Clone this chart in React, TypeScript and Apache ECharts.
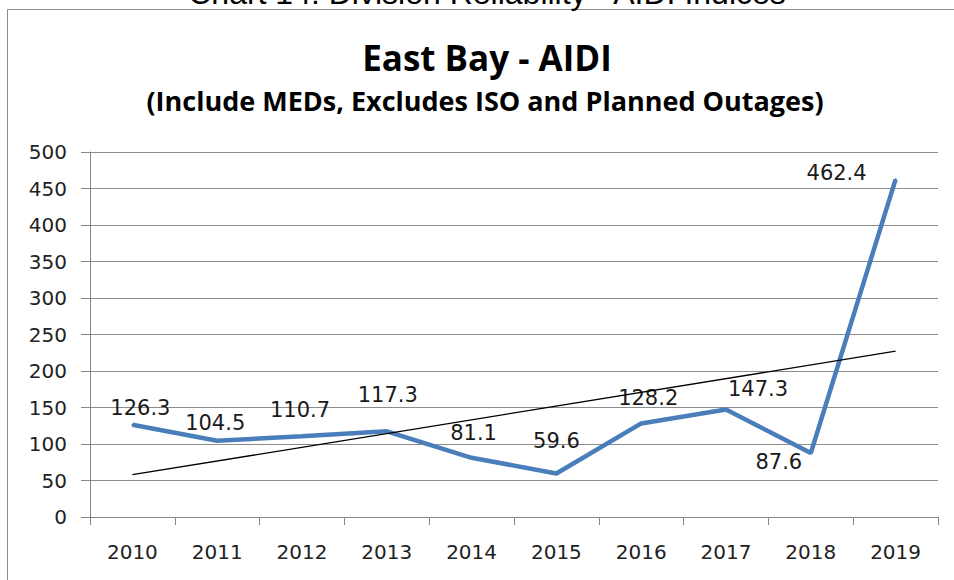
import React, { useEffect, useRef } from "react";
import * as echarts from "echarts";

const categories = ["2010", "2011", "2012", "2013", "2014", "2015", "2016", "2017", "2018", "2019"];
const aidiValues = [126.3, 104.5, 110.7, 117.3, 81.1, 59.6, 128.2, 147.3, 87.6, 462.4];
const trendStart = 57.9;
const trendEnd = 227.1;
const yTicks = { min: 0, max: 500, interval: 50 };

const titleText = "East Bay - AIDI";
const subtitleText = "(Include MEDs, Excludes ISO and Planned Outages)";
const pageHeading = "Chart 14: Division Reliability - AIDI Indices";

// label offsets (style, relative to each point)
const labelOffsets: [number, number][] = [
  [8, -17], [-2, -18], [-2, -26], [1, -36], [2, -25],
  [0, -32], [7, -25], [32, -20], [-32, 9], [-59, -6],
];

export default function App() {
  const ref = useRef<HTMLDivElement>(null);
  useEffect(() => {
    if (!ref.current) return;
    const chart = echarts.init(ref.current, null, { renderer: "svg" });
    const labelFont = "DejaVu Sans";
    chart.setOption({
      animation: false,
      backgroundColor: "#ffffff",
      graphic: [
        {
          type: "rect",
          shape: { x: 7.5, y: 9.5, width: 1000, height: 1000 },
          style: { fill: "none", stroke: "#8c8c8c", lineWidth: 1 },
          silent: true,
        },
        {
          type: "text",
          x: 487,
          y: 9,
          style: {
            text: pageHeading,
            font: "32px 'Liberation Sans'",
            fill: "#000",
            align: "center",
            verticalAlign: "bottom",
          },
          silent: true,
        },
        {
          type: "text",
          x: 487,
          y: 57,
          style: {
            text: titleText,
            font: "bold 35px 'Open Sans'",
            fill: "#000",
            align: "center",
            verticalAlign: "middle",
          },
        },
        {
          type: "text",
          x: 485,
          y: 100,
          style: {
            text: subtitleText,
            font: "bold 27px 'Open Sans'",
            fill: "#000",
            align: "center",
            verticalAlign: "middle",
          },
        },
      ],
      grid: { left: 90, right: 16, top: 152, bottom: 63, containLabel: false },
      xAxis: {
        type: "category",
        data: categories,
        boundaryGap: true,
        axisLine: { show: true, lineStyle: { color: "#868686", width: 1 } },
        axisTick: { show: true, length: 8, lineStyle: { color: "#868686" } },
        axisLabel: { color: "#222", fontFamily: labelFont, fontSize: 20, margin: 25 },
        splitLine: { show: false },
      },
      yAxis: {
        type: "value",
        min: yTicks.min,
        max: yTicks.max,
        interval: yTicks.interval,
        axisLine: { show: true, lineStyle: { color: "#868686", width: 1 } },
        axisTick: { show: true, length: 9, lineStyle: { color: "#868686" } },
        axisLabel: { color: "#222", fontFamily: labelFont, fontSize: 20, margin: 23 },
        splitLine: { show: true, lineStyle: { color: "#8c8c8c", width: 1 } },
      },
      series: [
        {
          name: "AIDI",
          type: "line",
          data: aidiValues.map((v, i) => ({
            value: v,
            label: { offset: labelOffsets[i] },
          })),
          symbol: "circle",
          symbolSize: 2,
          itemStyle: { color: "#4a7ebb" },
          lineStyle: { color: "#4a7ebb", width: 4.5 },
          label: {
            show: true,
            position: "inside",
            align: "center",
            verticalAlign: "middle",
            color: "#1a1a1a",
            fontFamily: labelFont,
            fontSize: 21,
            formatter: (p: any) => p.value.toFixed(1),
          },
          z: 2,
        },
        {
          name: "Trend",
          type: "line",
          data: [
            [0, trendStart],
            [categories.length - 1, trendEnd],
          ],
          symbol: "none",
          lineStyle: { color: "#000", width: 1.3 },
          silent: true,
          z: 3,
        },
      ],
    });
    return () => chart.dispose();
  }, []);
  return (
    <div
      ref={ref}
      style={{ position: "fixed", left: 0, top: 0, width: 954, height: 580 }}
    />
  );
}
